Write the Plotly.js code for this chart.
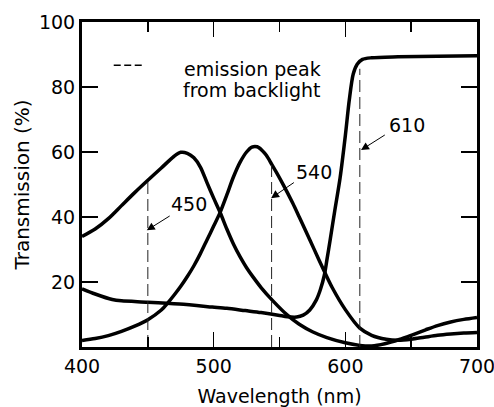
<!DOCTYPE html>
<html>
<head>
<meta charset="utf-8">
<script src="https://cdn.plot.ly/plotly-3.0.1.min.js"></script>
<style>
  html, body { margin: 0; padding: 0; background: #fff; }
  #chart { width: 494px; height: 407px; }
</style>
</head>
<body>
<div id="chart"></div>
<script>
// ---- data ----
var blueWl  = [400, 410, 420, 430, 440, 450, 460, 470, 475, 480, 485, 490, 495, 500, 505, 510, 515, 520, 525, 530, 536, 545, 556, 565, 575, 586, 600, 611, 620, 630, 641, 650, 661, 670, 680, 690, 700];
var blueT   = [34, 36.3, 39.5, 43.5, 47.5, 51.3, 55, 58.7, 59.9, 59.6, 58.2, 55.3, 50.5, 45.8, 41.3, 36.3, 31.7, 27.8, 24.4, 21.5, 18.3, 14.2, 9.8, 7, 4.7, 2.9, 1.3, 0.5, 0.3, 1.0, 2.3, 3.6, 5.3, 6.6, 7.7, 8.5, 9.1];

var greenWl = [400, 410, 420, 430, 440, 450, 460, 465, 470, 475, 480, 485, 490, 495, 500, 505, 510, 515, 520, 525, 529, 533, 537, 540, 544, 548, 553, 560, 565, 573, 580, 584, 590, 600, 611, 620, 631, 640, 650, 660, 670, 680, 690, 700];
var greenT  = [2.0, 2.6, 3.5, 4.8, 6.4, 8.4, 11.3, 13.5, 16, 18.7, 21.7, 25, 28.8, 33, 37.2, 41.5, 46.8, 52.3, 56.8, 60, 61.5, 61.6, 60.4, 59, 56.3, 53.5, 49.8, 44.3, 40, 33, 26.8, 23.3, 18.3, 11.5, 5.8, 3.6, 2.4, 2.1, 2.4, 3.0, 3.6, 4.0, 4.3, 4.5];

var redWl   = [400, 410, 423, 430, 450, 474, 499, 510, 524, 536, 549, 556, 563, 568, 573, 578, 581, 584, 586, 588.5, 592, 596, 600, 603, 606, 609, 613, 620, 640, 670, 700];
var redT    = [17.9, 16.3, 14.6, 14.2, 13.8, 13.2, 12.3, 11.9, 11.2, 10.6, 9.8, 9.3, 9.2, 9.8, 11.4, 14.5, 17.6, 22, 26.8, 33, 42, 52, 65, 76, 84, 87, 88.5, 89.0, 89.3, 89.5, 89.6];

// backlight emission peaks (dashed markers)
var peakWl     = [450, 544, 611];
var peakTop    = [51.4, 56, 85.6];
var peakLabels = ['450', '540', '610'];

var xTickVals = [400, 500, 600, 700];
var yTickVals = [20, 40, 60, 80, 100];

var FONT = 'DejaVu Sans, Liberation Sans, Arial, sans-serif';
var curveLine = {color: '#000', width: 3.5, shape: 'spline', smoothing: 0.8};

var traces = [
  {x: blueWl, y: blueT, mode: 'lines', line: curveLine, hoverinfo: 'skip'},
  {x: greenWl, y: greenT, mode: 'lines', line: curveLine, hoverinfo: 'skip'},
  {x: redWl, y: redT, mode: 'lines', line: curveLine, hoverinfo: 'skip'}
];
for (var i = 0; i < peakWl.length; i++) {
  traces.push({
    x: [peakWl[i], peakWl[i]], y: [0, peakTop[i]], mode: 'lines',
    line: {color: '#222', width: 1, dash: '12px,5px'}, hoverinfo: 'skip'
  });
}

// label positions (data coords) and arrow offsets (px)
var labelPos = [[481.4, 44.0], [576.4, 53.9], [647.2, 68.3]];
var arrowTip = [[449.2, 35.9], [543.6, 45.8], [611.9, 60.6]];
var arrowOff = [[24.4, -15.3], [24.3, -16.6], [25.3, -16]];

var annotations = [];
for (var j = 0; j < peakLabels.length; j++) {
  annotations.push({
    x: labelPos[j][0], y: labelPos[j][1], xref: 'x', yref: 'y',
    text: peakLabels[j], showarrow: false,
    font: {family: FONT, size: 19, color: '#000'},
    xanchor: 'center', yanchor: 'middle'
  });
  annotations.push({
    x: arrowTip[j][0], y: arrowTip[j][1], xref: 'x', yref: 'y',
    text: '', showarrow: true, ax: arrowOff[j][0], ay: arrowOff[j][1],
    arrowhead: 2, arrowsize: 1.6, arrowwidth: 1, arrowcolor: '#000', standoff: 0
  });
}
annotations.push({
  x: 583, y: 85.5, xref: 'x', yref: 'y', text: 'emission peak', showarrow: false,
  font: {family: FONT, size: 19, color: '#000'}, xanchor: 'right', yanchor: 'middle'
});
annotations.push({
  x: 583, y: 79.1, xref: 'x', yref: 'y', text: 'from backlight', showarrow: false,
  font: {family: FONT, size: 19, color: '#000'}, xanchor: 'right', yanchor: 'middle'
});

var layout = {
  width: 494, height: 407,
  margin: {l: 81.5, r: 17.2, t: 21.5, b: 59.5, pad: 0},
  paper_bgcolor: '#fff', plot_bgcolor: '#fff',
  showlegend: false,
  font: {family: FONT, size: 19, color: '#000'},
  xaxis: {
    range: [400, 700], tickvals: xTickVals, ticktext: xTickVals.map(String),
    ticks: 'inside', ticklen: 15, tickwidth: 1.5, tickcolor: '#000',
    minor: {dtick: 50, tick0: 400, ticks: 'inside', ticklen: 10, tickwidth: 1.5, tickcolor: '#000'},
    showline: true, linewidth: 3, linecolor: '#000', mirror: 'ticks',
    showgrid: false, zeroline: false, ticklabeloverflow: 'allow',
    tickfont: {family: FONT, size: 19, color: '#000'},
    title: {text: 'Wavelength (nm)', font: {family: FONT, size: 19, color: '#000'}, standoff: 18}
  },
  yaxis: {
    range: [0, 100], tickvals: yTickVals, ticktext: yTickVals.map(String),
    ticks: 'inside', ticklen: 16, tickwidth: 1.5, tickcolor: '#000',
    showline: true, linewidth: 3, linecolor: '#000', mirror: 'ticks',
    showgrid: false, zeroline: false, ticklabeloverflow: 'allow',
    tickfont: {family: FONT, size: 19, color: '#000'},
    title: {text: 'Transmission (%)', font: {family: FONT, size: 20, color: '#000'}, standoff: 4}
  },
  shapes: [{
    type: 'line', xref: 'x', yref: 'y', x0: 424.1, x1: 445.7, y0: 86.7, y1: 86.7,
    line: {color: '#000', width: 1.5, dash: '7px,3.5px'}
  }],
  annotations: annotations
};

Plotly.newPlot('chart', traces, layout, {staticPlot: true, displayModeBar: false});
</script>
</body>
</html>
